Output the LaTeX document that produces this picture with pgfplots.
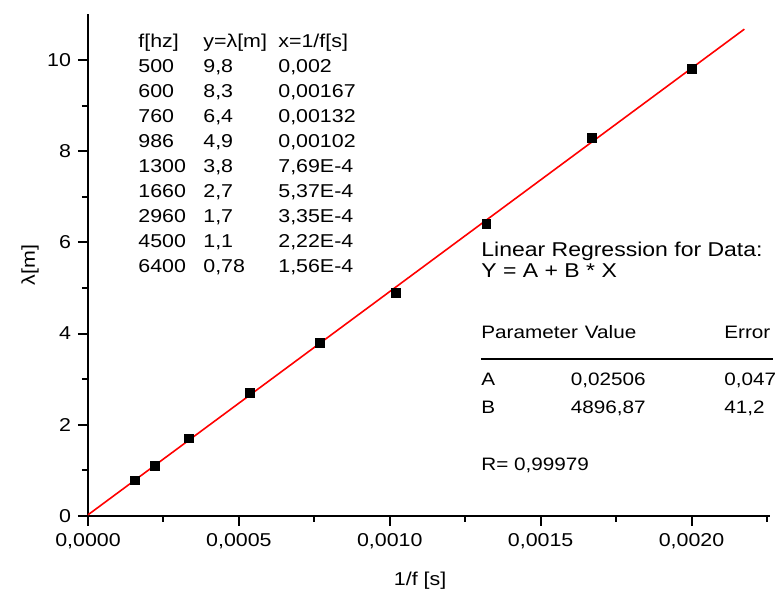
\documentclass[border=0pt]{standalone}
\usepackage{fontspec}
\setmainfont[FakeStretch=1.15]{Liberation Sans}
\usepackage{pgfplots}
\pgfplotsset{compat=1.18}

\begin{document}
\begin{tikzpicture}[font=\fontsize{9.3}{12.5}\selectfont]
\begin{axis}[
    scale only axis,
    width=341pt,
    height=250.8pt,
    xmin=0, xmax=0.00226,
    ymin=0, ymax=11,
    axis x line*=bottom,
    axis y line*=left,
    axis line style={-, line width=1.4pt},
    tick align=outside,
    major tick length=5pt,
    minor tick length=3pt,
    tick style={line width=1pt, black},
    xtick={0,0.0005,0.001,0.0015,0.002},
    minor xtick={0.00025,0.00075,0.00125,0.00175,0.00225},
    ytick={0,2,4,6,8,10},
    minor ytick={1,3,5,7,9},
    scaled x ticks=false,
    /pgf/number format/assume math mode=true,
    xticklabel style={/pgf/number format/.cd, fixed, fixed zerofill, precision=4, use comma, 1000 sep={}},
    yticklabel style={/pgf/number format/.cd, fixed, precision=0, use comma},
    tick label style={font=\fontsize{9.3}{11}\selectfont},
    xlabel={1/f [s]},
    ylabel={λ[m]},
    xlabel style={at={(axis description cs:0.487,-0.128)}, anchor=center, font=\fontsize{9.3}{11}\selectfont},
    ylabel style={at={(axis description cs:-0.085,0.5)}, anchor=center, font=\fontsize{9.3}{11}\selectfont},
    clip=false,
]
% linear fit Y = A + B*X, A = 0.02506, B = 4896.87
\addplot[red, line width=0.8pt] coordinates {(0,0.02506) (0.002175,10.676)};
\addplot[only marks, mark=square*, mark size=2.2pt, black] coordinates {
  (0.002,9.8) (0.00167,8.3) (0.00132,6.4) (0.00102,4.9) (0.000769,3.8)
  (0.000537,2.7) (0.000335,1.7) (0.000222,1.1) (0.000156,0.78)
};

% data table
\node[anchor=base west, inner sep=0pt] at (rel axis cs:0.0733,0.934) {%
  \begin{tabular}[t]{@{}p{32.5pt}@{}p{37.5pt}@{}l@{}}
  f[hz] & y=λ[m] & x=1/f[s]\\
  500  & 9,8  & 0,002\\
  600  & 8,3  & 0,00167\\
  760  & 6,4  & 0,00132\\
  986  & 4,9  & 0,00102\\
  1300 & 3,8  & 7,69E-4\\
  1660 & 2,7  & 5,37E-4\\
  2960 & 1,7  & 3,35E-4\\
  4500 & 1,1  & 2,22E-4\\
  6400 & 0,78 & 1,56E-4
  \end{tabular}};

% regression box
\begin{scope}[every node/.style={inner sep=0pt, font=\fontsize{10}{12}\selectfont}]
\node[anchor=base west] at (rel axis cs:0.5762,0.5173) {Linear Regression for Data:};
\node[anchor=base west] at (rel axis cs:0.5762,0.4755) {Y = A + B * X};
\end{scope}
\begin{scope}[every node/.style={inner sep=0pt, font=\fontsize{9}{11}\selectfont}]
\node[anchor=base west] at (rel axis cs:0.5762,0.3539) {Parameter};
\node[anchor=base west] at (rel axis cs:0.7280,0.3539) {Value};
\node[anchor=base west] at (rel axis cs:0.9325,0.3539) {Error};
\node[anchor=base west] at (rel axis cs:0.5762,0.2602) {A};
\node[anchor=base east] at (rel axis cs:0.8182,0.2602) {0,02506};
\node[anchor=base west] at (rel axis cs:0.9325,0.2602) {0,047};
\node[anchor=base west] at (rel axis cs:0.5762,0.2043) {B};
\node[anchor=base east] at (rel axis cs:0.8182,0.2043) {4896,87};
\node[anchor=base west] at (rel axis cs:0.9325,0.2043) {41,2};
\node[anchor=base west] at (rel axis cs:0.5762,0.0907) {R= 0,99979};
\end{scope}
\draw[line width=1.4pt] (rel axis cs:0.5762,0.3130) -- (rel axis cs:1.0044,0.3130);
\end{axis}
\pgfresetboundingbox
\path ([xshift=-44pt,yshift=-38pt]current axis.south west) rectangle ([xshift=4pt,yshift=7.2pt]current axis.north east);
\end{tikzpicture}
\end{document}
